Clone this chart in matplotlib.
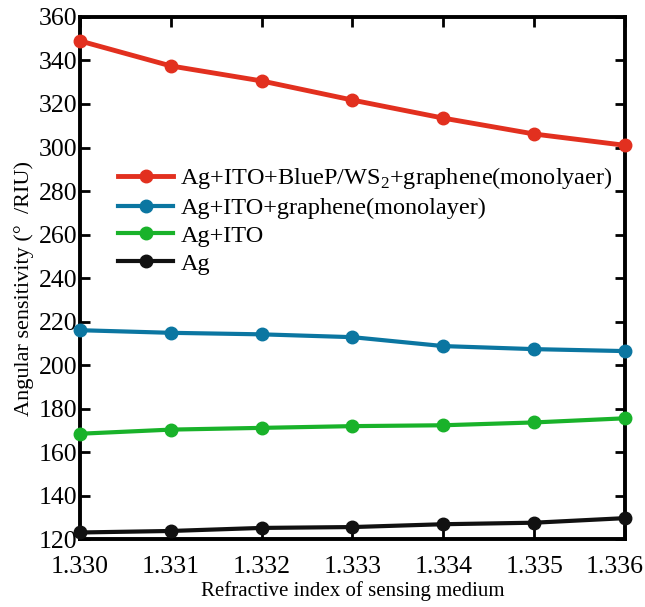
import matplotlib
matplotlib.use('Agg')
import matplotlib.pyplot as plt
import matplotlib.transforms as mtransforms
import numpy as np

plt.rcParams['font.family'] = ['Liberation Serif', 'DejaVu Serif']
plt.rcParams['mathtext.fontset'] = 'custom'
plt.rcParams['mathtext.rm'] = 'Liberation Serif'
plt.rcParams['xtick.direction'] = 'in'
plt.rcParams['ytick.direction'] = 'in'
plt.rcParams['xtick.top'] = True
plt.rcParams['ytick.right'] = True

# data
n_medium = [1.330, 1.331, 1.332, 1.333, 1.334, 1.335, 1.336]
s_bluep = [349.0, 337.5, 330.6, 321.8, 313.5, 306.2, 301.0]
s_graphene = [216.0, 214.8, 214.1, 212.8, 208.7, 207.3, 206.4]
s_ito = [168.4, 170.3, 171.1, 171.9, 172.3, 173.6, 175.5]
s_ag = [123.0, 123.7, 125.1, 125.5, 126.8, 127.5, 129.6]

labels = ['Ag+ITO+BlueP/WS$_\\mathregular{2}$+graphene(monolyaer)',
          'Ag+ITO+graphene(monolayer)',
          'Ag+ITO',
          'Ag']
colors = ['#e2301f', '#0b76a1', '#19b22a', '#111111']
series = [s_bluep, s_graphene, s_ito, s_ag]

fig = plt.figure(figsize=(6.45, 6.07), dpi=100)
ax = fig.add_axes([0.124, 0.112, 0.845, 0.860])

for ys, c, lab in zip(series, colors, labels):
    lw = 3.5 if c == '#e2301f' else 3
    ax.plot(n_medium, ys, '-o', color=c, lw=lw, ms=9, label=lab, clip_on=False, zorder=3)

ax.set_xlim(1.330, 1.336)
ax.set_ylim(120, 360)
ax.set_xticks(n_medium)
ax.set_xticklabels(['%.3f' % v for v in n_medium])
ax.set_yticks(np.arange(120, 361, 20))
ax.tick_params(labelsize=18.5, length=7, width=2)
ax.tick_params(axis='x', pad=12)
ax.tick_params(axis='y', pad=2)
for s in ax.spines.values():
    s.set_linewidth(2.8)

# last x label sits a bit left of its tick, as in the reference
last = ax.get_xticklabels()[-1]
last.set_transform(last.get_transform() +
                   mtransforms.ScaledTranslation(-10 / 100, 0, fig.dpi_scale_trans))

ax.set_xlabel('Refractive index of sensing medium', fontsize=15)
ax.xaxis.set_label_coords(0.5, -0.08)
ax.set_ylabel('Angular sensitivity (\u00b0  /RIU)', fontsize=16)
ax.yaxis.set_label_coords(-0.084, 0.479)

ax.legend(loc='upper left', bbox_to_anchor=(0.07, 0.716), frameon=False, fontsize=17.5,
          handlelength=2.26, handletextpad=0.3, labelspacing=0.24, borderaxespad=0,
          borderpad=0)

fig.savefig('out.png', dpi=100)
